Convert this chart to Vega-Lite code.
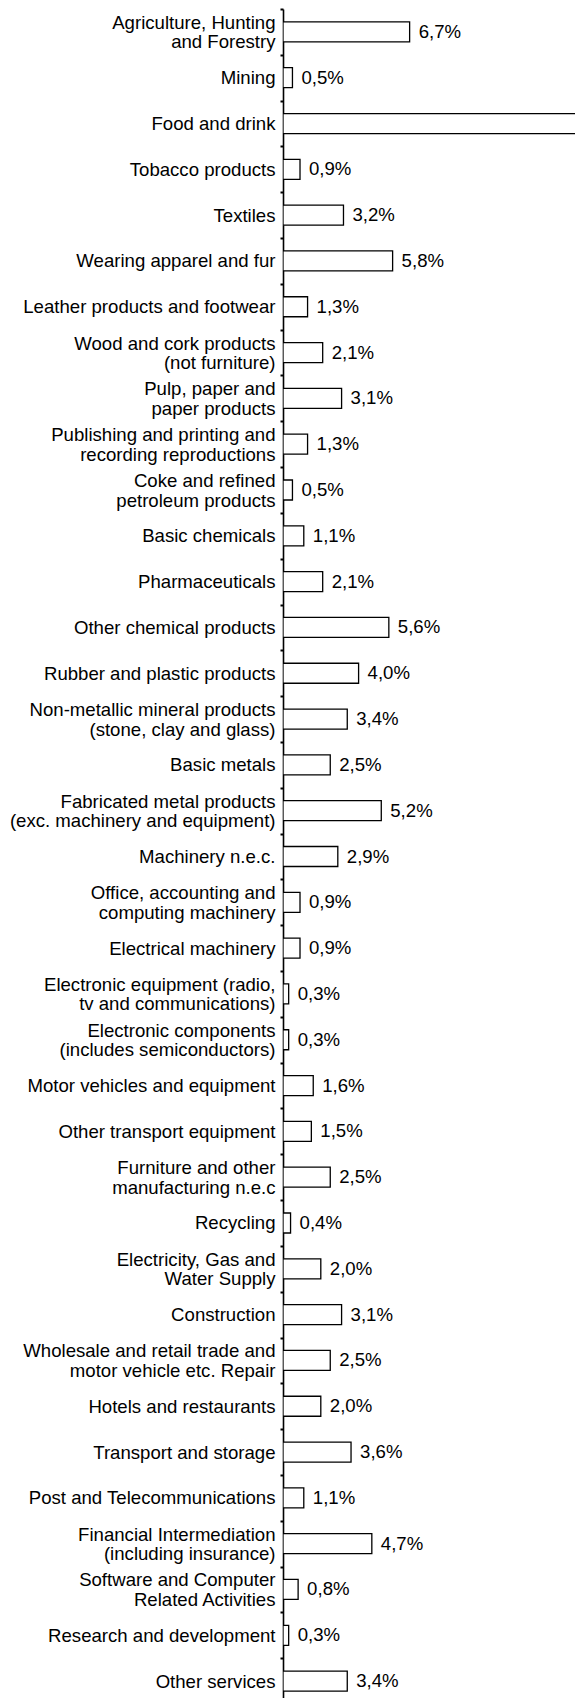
{
  "$schema": "https://vega.github.io/schema/vega-lite/v6.json",
  "width": 292,
  "height": 1695,
  "autosize": {"type": "none"},
  "padding": {"left": 283, "top": 9, "right": 0, "bottom": 0},
  "background": "white",
  "config": {
    "view": {"stroke": null},
    "locale": {"number": {"decimal": ",", "thousands": ".", "grouping": [3], "currency": ["", " €"]}},
    "font": "Liberation Sans"
  },
  "data": {
    "values": [
      {"sector": "Agriculture, Hunting|and Forestry", "share": 0.067},
      {"sector": "Mining", "share": 0.005},
      {"sector": "Food and drink", "share": 0.159},
      {"sector": "Tobacco products", "share": 0.009},
      {"sector": "Textiles", "share": 0.032},
      {"sector": "Wearing apparel and fur", "share": 0.058},
      {"sector": "Leather products and footwear", "share": 0.013},
      {"sector": "Wood and cork products|(not furniture)", "share": 0.021},
      {"sector": "Pulp, paper and|paper products", "share": 0.031},
      {"sector": "Publishing and printing and|recording reproductions", "share": 0.013},
      {"sector": "Coke and refined|petroleum products", "share": 0.005},
      {"sector": "Basic chemicals", "share": 0.011},
      {"sector": "Pharmaceuticals", "share": 0.021},
      {"sector": "Other chemical products", "share": 0.056},
      {"sector": "Rubber and plastic products", "share": 0.040},
      {"sector": "Non-metallic mineral products|(stone, clay and glass)", "share": 0.034},
      {"sector": "Basic metals", "share": 0.025},
      {"sector": "Fabricated metal products|(exc. machinery and equipment)", "share": 0.052},
      {"sector": "Machinery n.e.c.", "share": 0.029},
      {"sector": "Office, accounting and|computing machinery", "share": 0.009},
      {"sector": "Electrical machinery", "share": 0.009},
      {"sector": "Electronic equipment (radio,|tv and communications)", "share": 0.003},
      {"sector": "Electronic components|(includes semiconductors)", "share": 0.003},
      {"sector": "Motor vehicles and equipment", "share": 0.016},
      {"sector": "Other transport equipment", "share": 0.015},
      {"sector": "Furniture and other|manufacturing n.e.c", "share": 0.025},
      {"sector": "Recycling", "share": 0.004},
      {"sector": "Electricity, Gas and|Water Supply", "share": 0.020},
      {"sector": "Construction", "share": 0.031},
      {"sector": "Wholesale and retail trade and|motor vehicle etc. Repair", "share": 0.025},
      {"sector": "Hotels and restaurants", "share": 0.020},
      {"sector": "Transport and storage", "share": 0.036},
      {"sector": "Post and Telecommunications", "share": 0.011},
      {"sector": "Financial Intermediation|(including insurance)", "share": 0.047},
      {"sector": "Software and Computer|Related Activities", "share": 0.008},
      {"sector": "Research and development", "share": 0.003},
      {"sector": "Other services", "share": 0.034}
    ]
  },
  "encoding": {
    "y": {
      "field": "sector",
      "type": "nominal",
      "sort": null,
      "scale": {"paddingInner": 0, "paddingOuter": 0},
      "axis": {
        "title": null,
        "labelExpr": "isValid(datum.value) ? split(datum.value, '|') : ''",
        "labelFont": "Liberation Sans",
        "labelFontSize": 18.6,
        "labelColor": "black",
        "labelLineHeight": 19.5,
        "labelLimit": 0,
        "labelPadding": 5,
        "labelOffset": {"condition": {"test": "isValid(datum.value) && indexof(datum.value, '|') >= 0", "value": -9.5}, "value": 0},
        "domainColor": "black",
        "domainWidth": 1.6,
        "ticks": true,
        "tickBand": "extent",
        "tickSize": 3,
        "tickWidth": 2,
        "tickColor": "black",
        "grid": false
      }
    },
    "x": {
      "field": "share",
      "type": "quantitative",
      "scale": {"domain": [0, 0.1545], "nice": false, "zero": true},
      "axis": null
    }
  },
  "layer": [
    {
      "mark": {"type": "bar", "size": 20, "fill": "white", "stroke": "black", "strokeWidth": 1.3, "clip": true}
    },
    {
      "transform": [{"filter": "datum.share < 0.15"}],
      "mark": {"type": "text", "align": "left", "baseline": "middle", "dx": 9, "fontSize": 18.6, "font": "Liberation Sans", "color": "black"},
      "encoding": {
        "text": {"field": "share", "type": "quantitative", "format": ".1%"}
      }
    }
  ]
}
